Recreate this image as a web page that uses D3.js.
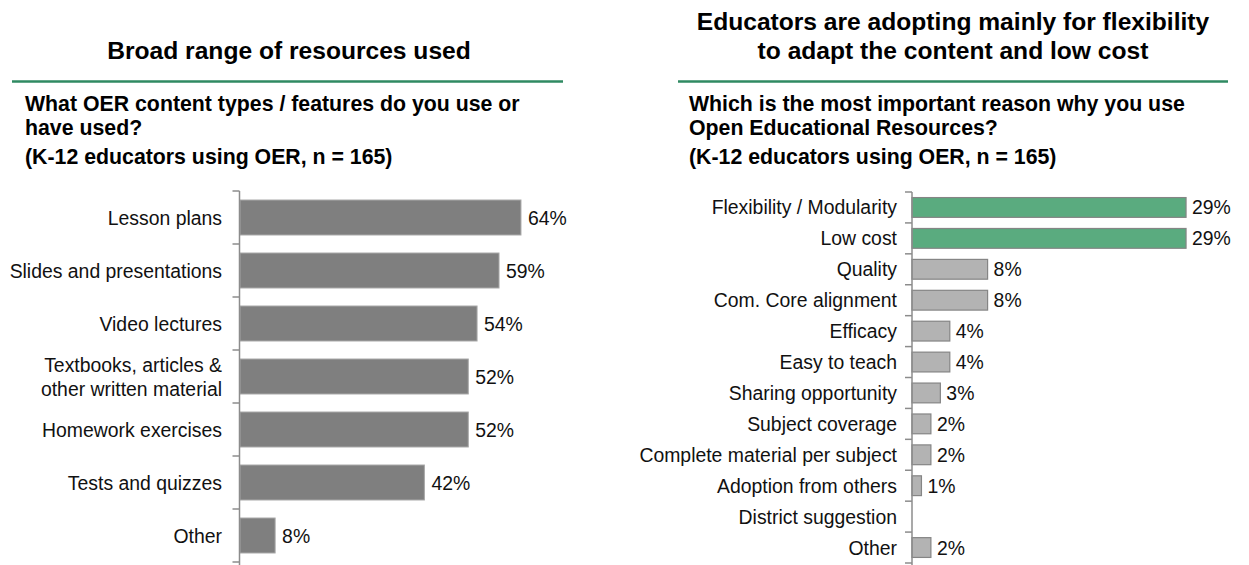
<!DOCTYPE html>
<html>
<head>
<meta charset="utf-8">
<script src="https://cdn.jsdelivr.net/npm/d3@7"></script>
<style>
  html, body { margin: 0; padding: 0; background: #fff; }
  svg { display: block; font-family: "Liberation Sans", Arial, sans-serif; }
</style>
</head>
<body>
<svg id="chart" width="1249" height="565"></svg>
<script>
// Left panel: content types used
const typeCategories = [
  ["Lesson plans"],
  ["Slides and presentations"],
  ["Video lectures"],
  ["Textbooks, articles &", "other written material"],
  ["Homework exercises"],
  ["Tests and quizzes"],
  ["Other"]
];
const typeValues = [64, 59, 54, 52, 52, 42, 8];

// Right panel: most important reason for using OER
const reasonCategories = [
  "Flexibility / Modularity", "Low cost", "Quality", "Com. Core alignment",
  "Efficacy", "Easy to teach", "Sharing opportunity", "Subject coverage",
  "Complete material per subject", "Adoption from others", "District suggestion", "Other"
];
const reasonValues = [29, 29, 8, 8, 4, 4, 3, 2, 2, 1, 0, 2];
const reasonHighlighted = ["Flexibility / Modularity", "Low cost"];

const leftTitle = ["Broad range of resources used"];
const leftQuestion = ["What OER content types / features do you use or", "have used?", "(K-12 educators using OER, n = 165)"];
const rightTitle = ["Educators are adopting mainly for flexibility", "to adapt the content and low cost"];
const rightQuestion = ["Which is the most important reason why you use", "Open Educational Resources?", "(K-12 educators using OER, n = 165)"];

const svg = d3.select("#chart");
const GREEN_RULE = "#2f8a62";
const AXIS = "#8c8c8c";
const TEXT = "#111";
const LABEL_SIZE = 19.4;

function header(cx, titleLines, titleBaselines, ruleX0, ruleX1, qx, qLines) {
  svg.append("g").selectAll("text").data(titleLines).join("text")
    .attr("x", cx).attr("y", (d, i) => titleBaselines[i])
    .attr("text-anchor", "middle")
    .attr("font-size", 24.6).attr("font-weight", "bold").attr("fill", "#000")
    .text(d => d);
  svg.append("line")
    .attr("x1", ruleX0).attr("x2", ruleX1).attr("y1", 81.5).attr("y2", 81.5)
    .attr("stroke", GREEN_RULE).attr("stroke-width", 2.5);
  const qBase = [111, 135, 164];
  svg.append("g").selectAll("text").data(qLines).join("text")
    .attr("x", qx).attr("y", (d, i) => qBase[i])
    .attr("font-size", 21.3).attr("font-weight", "bold").attr("fill", "#000")
    .text(d => d);
}

function bracketAxis(y, x0, yBottom) {
  const g = svg.append("g");
  const step = y.step();
  const top = y.range()[0];
  const n = y.domain().length;
  g.append("line")
    .attr("x1", x0).attr("x2", x0).attr("y1", top).attr("y2", yBottom)
    .attr("stroke", AXIS).attr("stroke-width", 1.5);
  g.selectAll("line.tick").data(d3.range(n + 1)).join("line")
    .attr("class", "tick")
    .attr("x1", x0 - 7).attr("x2", x0)
    .attr("y1", i => top + i * step).attr("y2", i => top + i * step)
    .attr("stroke", AXIS).attr("stroke-width", 1.5);
}

// ---------- left panel ----------
header(289, leftTitle, [59], 12, 563, 25, leftQuestion);

const yL = d3.scaleBand().domain(d3.range(typeValues.length)).range([191, 562]).paddingInner(0.34).paddingOuter(0.17);
const xL = d3.scaleLinear().domain([0, 100]).range([240, 240 + 439]);

svg.append("g").selectAll("rect").data(typeValues).join("rect")
  .attr("x", xL(0)).attr("y", (d, i) => yL(i))
  .attr("width", d => xL(d) - xL(0)).attr("height", yL.bandwidth())
  .attr("fill", "#7f7f7f").attr("stroke", "#a8a8a8").attr("stroke-width", 1);

bracketAxis(yL, 239.5, 565);

svg.append("g").selectAll("text").data(typeValues).join("text")
  .attr("x", d => xL(d) + 7).attr("y", (d, i) => yL(i) + yL.bandwidth() / 2 + 7)
  .attr("font-size", LABEL_SIZE).attr("fill", TEXT)
  .text(d => d + "%");

const catL = svg.append("g").selectAll("text").data(typeCategories).join("text")
  .attr("text-anchor", "end").attr("font-size", LABEL_SIZE).attr("fill", TEXT)
  .attr("x", 222)
  .attr("y", (d, i) => yL(i) + yL.bandwidth() / 2 + 7 - (d.length - 1) * 12);
catL.selectAll("tspan").data(d => d).join("tspan")
  .attr("x", 222).attr("dy", (d, j) => j === 0 ? 0 : 24)
  .text(d => d);

// ---------- right panel ----------
header(953, rightTitle, [30, 59], 678, 1228, 689, rightQuestion);

const yR = d3.scaleBand().domain(reasonCategories).range([192, 563]).paddingInner(0.36).paddingOuter(0.18);
const xR = d3.scaleLinear().domain([0, 100]).range([912, 912 + 945]);

const reasonRows = reasonCategories.map((c, i) => ({ c, v: reasonValues[i] })).filter(d => d.v > 0);

svg.append("g").selectAll("rect").data(reasonRows).join("rect")
  .attr("x", xR(0)).attr("y", d => yR(d.c))
  .attr("width", d => xR(d.v) - xR(0)).attr("height", yR.bandwidth())
  .attr("fill", d => reasonHighlighted.includes(d.c) ? "#5aab7f" : "#b3b3b3")
  .attr("stroke", "#858585").attr("stroke-width", 1.2);

bracketAxis(yR, 912, 565);

svg.append("g").selectAll("text").data(reasonRows).join("text")
  .attr("x", d => xR(d.v) + 6).attr("y", d => yR(d.c) + yR.bandwidth() / 2 + 7)
  .attr("font-size", LABEL_SIZE).attr("fill", TEXT)
  .text(d => d.v + "%");

svg.append("g").selectAll("text").data(reasonCategories).join("text")
  .attr("x", 897).attr("y", d => yR(d) + yR.bandwidth() / 2 + 7)
  .attr("text-anchor", "end").attr("font-size", LABEL_SIZE).attr("fill", TEXT)
  .text(d => d);
</script>
</body>
</html>
